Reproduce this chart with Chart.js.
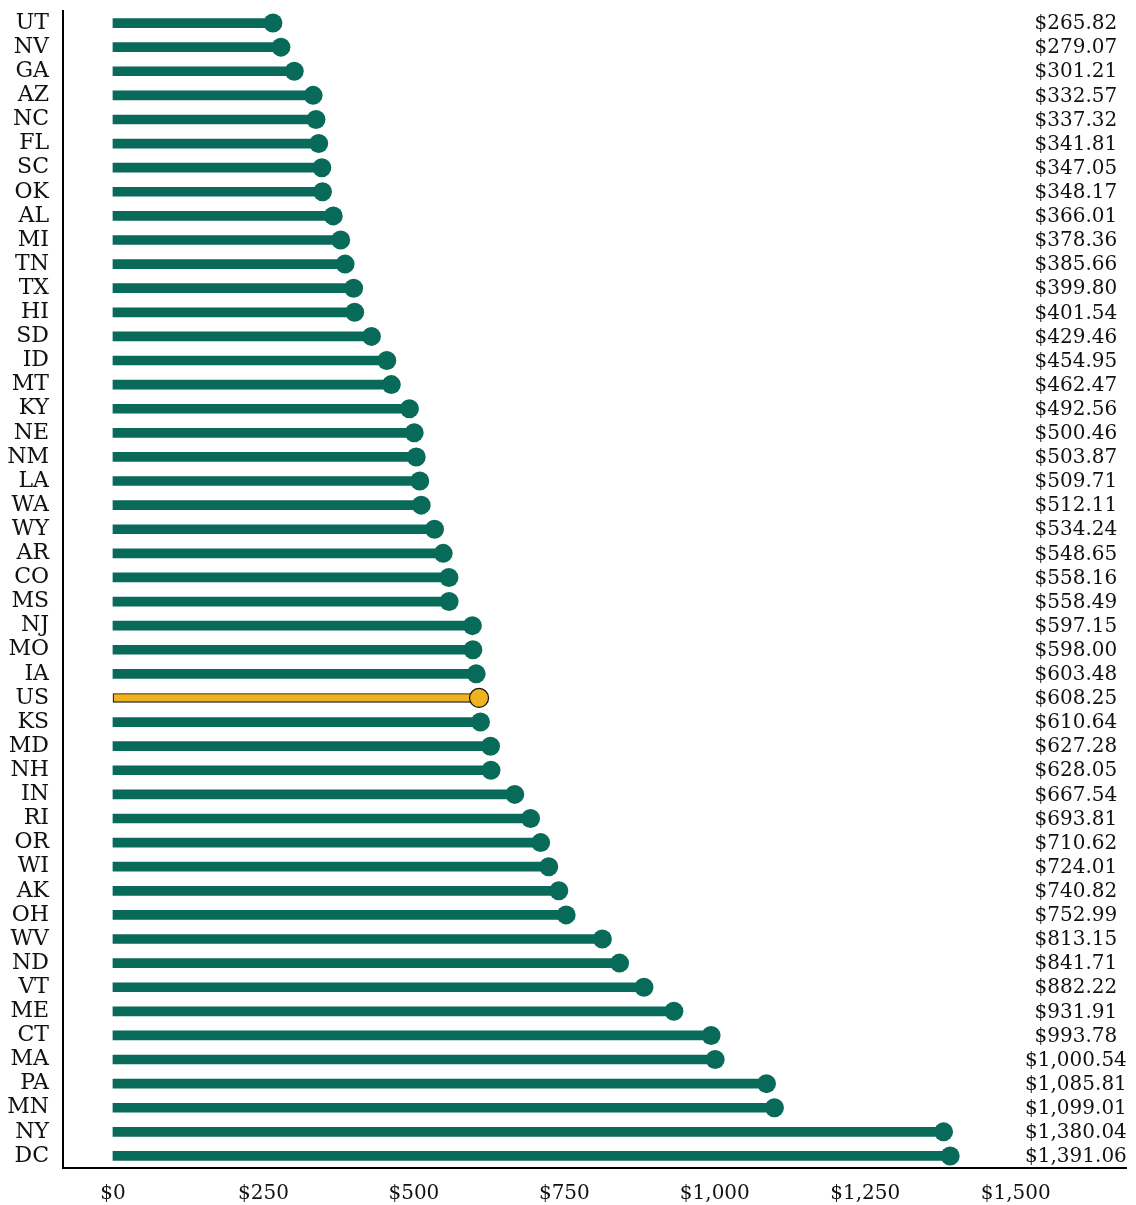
<!DOCTYPE html>
<html>
<head>
<meta charset="utf-8">
<script src="https://cdn.jsdelivr.net/npm/chart.js@4"></script>
<style>
  html, body { margin: 0; padding: 0; background: #fff; }
  #wrap { width: 1136px; height: 1205px; }
</style>
</head>
<body>
<div id="wrap"><canvas id="chart"></canvas></div>
<script>
const states = ['UT','NV','GA','AZ','NC','FL','SC','OK','AL','MI','TN','TX','HI','SD','ID','MT','KY','NE','NM','LA','WA','WY','AR','CO','MS','NJ','MO','IA','US','KS','MD','NH','IN','RI','OR','WI','AK','OH','WV','ND','VT','ME','CT','MA','PA','MN','NY','DC'];
const spending = [265.82,279.07,301.21,332.57,337.32,341.81,347.05,348.17,366.01,378.36,385.66,399.80,401.54,429.46,454.95,462.47,492.56,500.46,503.87,509.71,512.11,534.24,548.65,558.16,558.49,597.15,598.00,603.48,608.25,610.64,627.28,628.05,667.54,693.81,710.62,724.01,740.82,752.99,813.15,841.71,882.22,931.91,993.78,1000.54,1085.81,1099.01,1380.04,1391.06];
const tickValues = [0, 250, 500, 750, 1000, 1250, 1500];
const tickLabels = ['$0', '$250', '$500', '$750', '$1,000', '$1,250', '$1,500'];

const GREEN = '#086a59';
const GOLD = '#efb320';
const FONT = 'DejaVu Serif';

const isUS = s => s === 'US';
const fillColors = states.map(s => isUS(s) ? GOLD : GREEN);

// value labels in the right margin
const valueLabels = {
  id: 'valueLabels',
  afterDatasetsDraw(chart) {
    const { ctx, scales: { x, y } } = chart;
    ctx.save();
    ctx.font = '20px "' + FONT + '"';
    ctx.fillStyle = '#111';
    ctx.textAlign = 'center';
    ctx.textBaseline = 'middle';
    const lx = x.getPixelForValue(1600);
    spending.forEach((v, i) => {
      const txt = '$' + v.toLocaleString('en-US', { minimumFractionDigits: 2, maximumFractionDigits: 2 });
      ctx.fillText(txt, lx, y.getPixelForValue(i) + 1);
    });
    ctx.restore();
  }
};

new Chart(document.getElementById('chart'), {
  type: 'bar',
  data: {
    labels: states,
    datasets: [
      {
        type: 'line',
        data: spending.map((v, i) => ({ x: v, y: states[i] })),
        showLine: false,
        pointRadius: 9.5,
        pointBackgroundColor: fillColors,
        pointBorderColor: states.map(s => isUS(s) ? '#111' : GREEN),
        pointBorderWidth: states.map(s => isUS(s) ? 1.2 : 0),
        order: 0
      },
      {
        data: spending,
        backgroundColor: fillColors,
        borderColor: states.map(s => isUS(s) ? '#111' : GREEN),
        borderWidth: states.map(s => isUS(s) ? 1.2 : 0),
        borderSkipped: false,
        barThickness: 9,
        order: 1
      }
    ]
  },
  options: {
    indexAxis: 'y',
    responsive: true,
    maintainAspectRatio: false,
    animation: false,
    layout: { padding: { top: 11, right: 6, left: 0, bottom: 0 } },
    plugins: {
      legend: { display: false },
      tooltip: { enabled: false }
    },
    scales: {
      x: {
        type: 'linear',
        min: -83,
        max: 1684,
        afterBuildTicks: scale => { scale.ticks = tickValues.map(v => ({ value: v })); },
        afterFit: scale => { scale.height = 37; scale.paddingLeft = 0; scale.paddingRight = 0; },
        grid: { display: false },
        border: { display: true, color: '#000', width: 2 },
        ticks: {
          padding: 6,
          color: '#111',
          font: { family: FONT, size: 20 },
          callback: v => tickLabels[tickValues.indexOf(v)]
        }
      },
      y: {
        afterFit: scale => { scale.width = 63; scale.paddingTop = 0; scale.paddingBottom = 0; },
        grid: { display: false },
        border: { display: true, color: '#000', width: 2 },
        ticks: {
          padding: 6,
          color: '#111',
          autoSkip: false,
          font: { family: FONT, size: 22 }
        }
      }
    }
  },
  plugins: [valueLabels]
});
</script>
</body>
</html>
